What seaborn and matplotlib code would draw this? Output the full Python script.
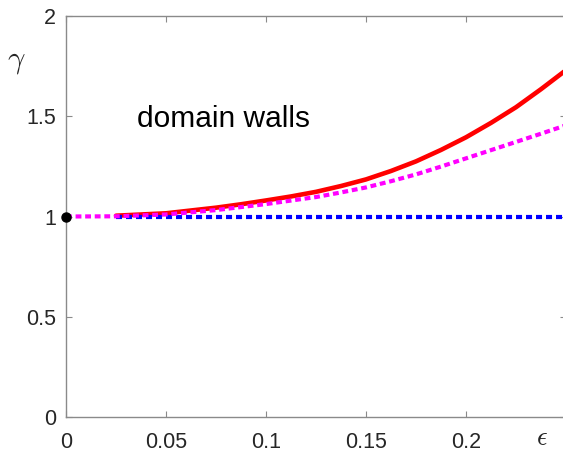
import numpy as np
import pandas as pd
import matplotlib
matplotlib.use('Agg')
import matplotlib.pyplot as plt
import seaborn as sns

# values
eps_red = [0.025, 0.05, 0.075, 0.0875, 0.1, 0.1125, 0.125, 0.1375, 0.15, 0.1625,
           0.175, 0.1875, 0.2, 0.2125, 0.225, 0.2375, 0.25]
gamma_red = [1.004, 1.016, 1.044, 1.061, 1.08, 1.1, 1.123, 1.152, 1.185, 1.227,
             1.275, 1.332, 1.395, 1.467, 1.545, 1.635, 1.73]
eps_mag = [0, 0.025, 0.05, 0.075, 0.1, 0.125, 0.1375, 0.15, 0.1625, 0.175,
           0.1875, 0.2, 0.2125, 0.225, 0.2375, 0.25]
gamma_mag = [1.0, 1.001, 1.01, 1.032, 1.062, 1.097, 1.12, 1.145, 1.176, 1.21,
             1.249, 1.29, 1.331, 1.372, 1.413, 1.455]
eps_blue = [0.025, 0.25]
gamma_blue = [1.0, 1.0]
x_ticks = [0, 0.05, 0.1, 0.15, 0.2]
x_labels = ['0', '0.05', '0.1', '0.15', '0.2']
y_ticks = [0, 0.5, 1, 1.5, 2]
y_labels = ['0', '0.5', '1', '1.5', '2']

sns.set_style('white')
plt.rcParams['font.family'] = ['Liberation Sans', 'DejaVu Sans']
plt.rcParams['mathtext.fontset'] = 'cm'

fig = plt.figure(figsize=(5.63, 4.53), dpi=100)
ax = fig.add_axes([66 / 563, 36 / 453, 500 / 563, 401 / 453])

df_red = pd.DataFrame({'eps': eps_red, 'gamma': gamma_red})
df_blue = pd.DataFrame({'eps': eps_blue, 'gamma': gamma_blue})
df_mag = pd.DataFrame({'eps': eps_mag, 'gamma': gamma_mag})

sns.lineplot(data=df_red, x='eps', y='gamma', ax=ax, color='#ff0000', lw=3.3, zorder=3)
sns.lineplot(data=df_blue, x='eps', y='gamma', ax=ax, color='#0000ff', lw=3,
             linestyle=(0, (1.45, 0.95)), dash_capstyle='butt', zorder=4)
sns.lineplot(data=df_mag, x='eps', y='gamma', ax=ax, color='#ff00ff', lw=3,
             linestyle=(0, (1.4, 0.9)), dash_capstyle='butt', zorder=5)
ax.plot([0], [1], 'o', color='black', ms=6.5, zorder=6, clip_on=False)

ax.text(0.0355, 1.445, 'domain walls', fontsize=21.5, color='black')

ax.set_xlim(0, 0.25)
ax.set_ylim(0, 2)
ax.set_xticks(x_ticks)
ax.set_xticklabels(x_labels)
ax.set_yticks(y_ticks)
ax.set_yticklabels(y_labels)
ax.set_xlabel('')
ax.set_ylabel('')

gray = '#8a8a8a'
for s in ax.spines.values():
    s.set_color(gray)
    s.set_linewidth(1.0)
ax.tick_params(direction='in', length=4, width=0.8, color=gray,
               labelsize=15.5, labelcolor='#262626',
               top=True, right=True, bottom=True, left=True)
ax.tick_params(axis='x', pad=11)
ax.tick_params(axis='y', pad=7)

fig.text(16.5 / 563, 1 - 61 / 453, r'$\gamma$', fontsize=22, ha='center', va='center', color='#262626')
fig.text(542 / 563, 1 - 438 / 453, r'$\epsilon$', fontsize=19, ha='center', va='center', color='#262626')

fig.savefig('out.png', dpi=100)
